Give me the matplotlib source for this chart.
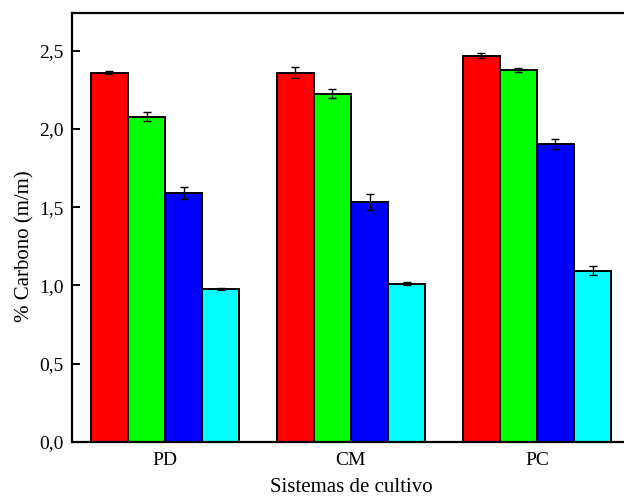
import matplotlib
matplotlib.use("Agg")
import matplotlib.pyplot as plt
import numpy as np

plt.rcParams['font.family'] = ['Liberation Serif', 'DejaVu Serif']

sistemas = ["PD", "CM", "PC"]
colores = ["#ff0000", "#00ff00", "#0000ff", "#00ffff"]

# % carbono por sistema (una lista por serie) y sus desviaciones
serie1 = [2.358, 2.358, 2.467]
serie2 = [2.077, 2.224, 2.377]
serie3 = [1.592, 1.533, 1.903]
serie4 = [0.979, 1.011, 1.094]
err1 = [0.010, 0.035, 0.016]
err2 = [0.029, 0.029, 0.012]
err3 = [0.039, 0.051, 0.032]
err4 = [0.005, 0.008, 0.029]

yticks = [0.0, 0.5, 1.0, 1.5, 2.0, 2.5]
ytick_labels = ["0,0", "0,5", "1,0", "1,5", "2,0", "2,5"]

series = [serie1, serie2, serie3, serie4]
errores = [err1, err2, err3, err4]

fig = plt.figure(figsize=(6.24, 4.99), dpi=100)
ax = fig.add_axes([72.2 / 624, 1 - 442 / 499, 557.6 / 624, 429 / 499])

x = np.arange(len(sistemas))
w = 0.2
for i, (vals, errs) in enumerate(zip(series, errores)):
    pos = x + (i - 1.5) * w
    ax.bar(pos, vals, width=w, color=colores[i], edgecolor="black",
           linewidth=1.4, zorder=2)
    ax.errorbar(pos, vals, yerr=errs, fmt="none", ecolor="black",
                elinewidth=1.0, capsize=3.2, capthick=1.0, zorder=3)

ax.set_xlim(-0.5, 2.5)
ax.set_ylim(0, 2.74)
ax.set_xticks(x)
ax.set_xticklabels(sistemas, fontsize=14)
ax.set_yticks(yticks)
ax.set_yticklabels(ytick_labels, fontsize=14)
ax.tick_params(axis="y", direction="in", length=6, width=1.4, pad=6)
ax.tick_params(axis="x", length=0, pad=7)
for s in ax.spines.values():
    s.set_linewidth(1.6)

ax.set_xlabel("Sistemas de cultivo", fontsize=15, labelpad=7)
ax.set_ylabel("% Carbono (m/m)", fontsize=15)
ax.yaxis.set_label_coords(-0.068, (442 - 246) / 429)

fig.savefig("out.png", dpi=100)
